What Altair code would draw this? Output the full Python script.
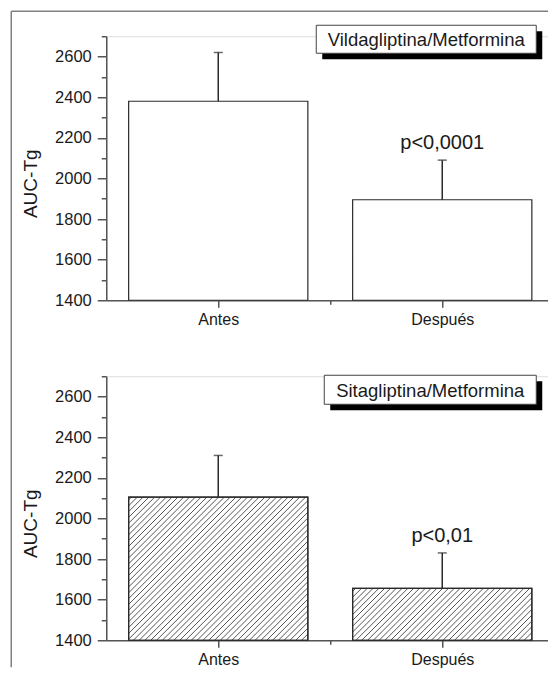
import altair as alt
import pandas as pd

# ---------------- data ----------------
categories = ["Antes", "Después"]
vilda_mean = [2380, 1895]
vilda_err_hi = [2620, 2090]
sita_mean = [2105, 1655]
sita_err_hi = [2310, 1830]
panel_titles = ["Vildagliptina/Metformina", "Sitagliptina/Metformina"]
vilda_p = ["", "p<0,0001"]
sita_p = ["", "p<0,01"]
y_title = "AUC-Tg"
y_ticks = list(range(1400, 2701, 100))
y_domain = [1400, 2700]
x_domain = [0, 2]

# ---------------- styling ----------------
W, H = 448, 264
FONT = "Liberation Sans"
AX = "#555555"
INK = "#1a1a1a"
BAR_EDGE = "#2a2a2a"
HALF = 0.4  # half bar width in x units

x_label_expr = " : ".join(
    [f"datum.value == {i + 0.5} ? '{c}'" for i, c in enumerate(categories)]
) + " : ''"


def x_enc(field):
    return alt.X(
        field,
        type="quantitative",
        scale=alt.Scale(domain=x_domain, nice=False, zero=False),
        axis=alt.Axis(
            values=[0.5, 1.0, 1.5, 2.0],
            labelExpr=x_label_expr,
            title=None,
            grid=False,
            domainColor=AX,
            domainWidth=1.5,
            tickColor=AX,
            tickWidth=1.5,
            tickSize={"condition": {"test": "datum.value % 1 != 0", "value": 7}, "value": 4},
            labelFont=FONT,
            labelFontSize=16,
            labelColor=INK,
            labelPadding=4,
        ),
    )


def y_enc(field):
    return alt.Y(
        field,
        type="quantitative",
        scale=alt.Scale(domain=y_domain, nice=False, zero=False),
        axis=alt.Axis(
            values=y_ticks,
            format="d",
            labelExpr="datum.value % 200 == 0 ? datum.label : ''",
            title=y_title,
            titleFont=FONT,
            titleFontSize=19,
            titleFontWeight="normal",
            titleColor=INK,
            titleX=-70,
            titleY=147,
            titleBaseline="alphabetic",
            titleAngle=270,
            grid=False,
            domainColor=AX,
            domainWidth=1.5,
            tickColor=AX,
            tickWidth=1.5,
            tickSize={"condition": {"test": "datum.value % 200 == 0", "value": 9}, "value": 5},
            labelFont=FONT,
            labelFontSize=16.5,
            labelColor=INK,
            labelPadding=6,
        ),
    )


def hatch_rows(means, step_px=5.8):
    kx = W / (x_domain[1] - x_domain[0])
    ky = H / (y_domain[1] - y_domain[0])
    rows = []
    for i, m in enumerate(means):
        pos = i + 0.5
        X0 = (pos - HALF - x_domain[0]) * kx
        X1 = (pos + HALF - x_domain[0]) * kx
        Yt = (m - y_domain[0]) * ky
        c = X0 - Yt + step_px / 2
        while c < X1:
            ylo = max(0.0, X0 - c)
            yhi = min(Yt, X1 - c)
            if yhi > ylo:
                rows.append({
                    "hx0": (ylo + c) / kx + x_domain[0],
                    "hx1": (yhi + c) / kx + x_domain[0],
                    "hy0": ylo / ky + y_domain[0],
                    "hy1": yhi / ky + y_domain[0],
                })
            c += step_px
    return pd.DataFrame(rows)


def panel(means, err_hi, p_text, title, hatched, box, frame):
    df = pd.DataFrame({
        "cat": categories,
        "pos": [i + 0.5 for i in range(len(categories))],
        "mean": means,
        "hi": err_hi,
        "p": p_text,
    })
    df["x0"] = df["pos"] - HALF
    df["x1"] = df["pos"] + HALF
    df["base"] = y_domain[0]

    base = alt.Chart(df)
    bars = base.mark_rect(fill="white", stroke=BAR_EDGE, strokeWidth=1.2).encode(
        x=x_enc("x0"), x2="x1", y=y_enc("base"), y2="mean"
    )
    layers = [bars]
    if hatched:
        hd = hatch_rows(means)
        hatch = alt.Chart(hd).mark_rule(color=BAR_EDGE, strokeWidth=0.8).encode(
            x=x_enc("hx0"), x2="hx1", y=y_enc("hy0"), y2="hy1"
        )
        outline = base.mark_rect(fill=None, fillOpacity=0, stroke=BAR_EDGE, strokeWidth=1.2).encode(
            x=x_enc("x0"), x2="x1", y=y_enc("base"), y2="mean"
        )
        layers += [hatch, outline]
    err = base.mark_rule(color=BAR_EDGE, strokeWidth=1.5).encode(
        x=x_enc("pos"), y=y_enc("mean"), y2="hi"
    )
    cap = base.mark_tick(color=BAR_EDGE, orient="horizontal", size=9, thickness=1.5).encode(
        x=x_enc("pos"), y=y_enc("hi")
    )
    ptxt = base.mark_text(font=FONT, fontSize=20, color=INK, dy=-11, baseline="alphabetic").encode(
        x=x_enc("pos"), y=y_enc("hi"), text="p:N"
    )
    layers += [err, cap, ptxt]

    one = alt.Chart(pd.DataFrame({"t": [title]}))
    bx0, bx1, by0, by1 = box
    shadow = one.mark_rect(fill="black").encode(
        x=alt.value(bx0 + 6), x2=alt.value(bx1 + 6), y=alt.value(by0 + 6), y2=alt.value(by1 + 6)
    )
    boxm = one.mark_rect(fill="white", stroke="#444444", strokeWidth=1).encode(
        x=alt.value(bx0), x2=alt.value(bx1), y=alt.value(by0), y2=alt.value(by1)
    )
    boxt = one.mark_text(font=FONT, fontSize=18.5, color=INK, baseline="middle", align="center").encode(
        x=alt.value((bx0 + bx1) / 2), y=alt.value((by0 + by1) / 2 + 1), text="t:N"
    )
    layers += [shadow, boxm, boxt]

    if frame:
        ftop = one.mark_rule(color="#808080", strokeWidth=1.5).encode(
            x=alt.value(-95), x2=alt.value(452), y=alt.value(-25)
        )
        fleft = one.mark_rule(color="#808080", strokeWidth=1.5).encode(
            x=alt.value(-95), y=alt.value(-25), y2=alt.value(631)
        )
        layers += [ftop, fleft]

    return alt.layer(*layers).properties(width=W, height=H)


top = panel(vilda_mean, vilda_err_hi, vilda_p, panel_titles[0], False, (210, 430, -11, 17), True)
bottom = panel(sita_mean, sita_err_hi, sita_p, panel_titles[1], True, (218, 430, -1, 28), False)

# the right padding is negative so the drawing keeps its true size while the
# strip beyond the page's content box (axis end / frame end) is cut off
chart = alt.vconcat(top, bottom, spacing=76, bounds="flush").properties(
    padding={"left": 1.25, "top": 1.25, "right": -12, "bottom": 0}
).configure_view(stroke=None).configure(background="white")

chart.save("out.html", embed_options={"renderer": "svg", "actions": False})
